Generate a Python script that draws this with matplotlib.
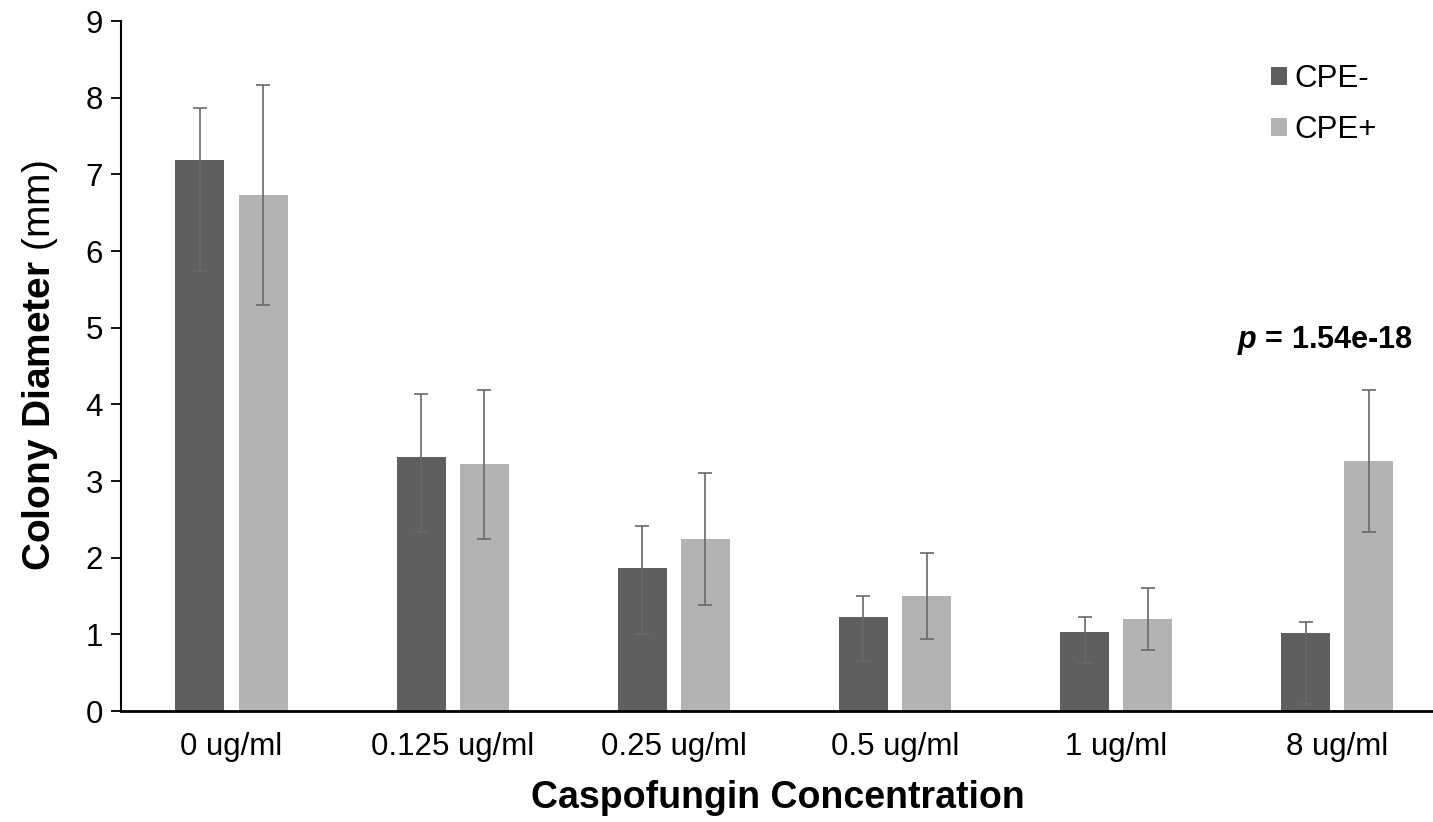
#!/usr/bin/env python3

import numpy as np
import matplotlib
matplotlib.use("Agg")
import matplotlib.pyplot as plt

# values (colony diameter, mm)
concentrations = ["0 ug/ml", "0.125 ug/ml", "0.25 ug/ml", "0.5 ug/ml", "1 ug/ml", "8 ug/ml"]
cpe_minus = [7.19, 3.31, 1.87, 1.22, 1.03, 1.02]
cpe_minus_err_up = [0.67, 0.82, 0.54, 0.28, 0.19, 0.14]
cpe_minus_err_down = [1.45, 0.98, 0.87, 0.57, 0.40, 0.93]
cpe_plus = [6.73, 3.22, 2.24, 1.50, 1.20, 3.26]
cpe_plus_err = [1.44, 0.97, 0.86, 0.56, 0.41, 0.93]
p_label = "1.54e-18"

plt.rcParams["font.family"] = ["Liberation Sans", "DejaVu Sans"]
plt.rcParams["mathtext.fontset"] = "custom"
plt.rcParams["mathtext.rm"] = "Liberation Sans"
plt.rcParams["mathtext.bf"] = "Liberation Sans:bold"
plt.rcParams["mathtext.it"] = "Liberation Sans:italic:bold"

dark = "#5f5f5f"
light = "#b3b3b3"
err_color = "#686868"

fig = plt.figure(figsize=(14.33, 8.22), dpi=100)
ax = fig.add_axes([0.0844, 0.135, 0.926, 0.8394])

x = np.arange(len(concentrations))
width = 0.222
offset = 0.143

err_kw = dict(ecolor=err_color, elinewidth=1.2, capsize=5, capthick=1.2)
ax.bar(x - offset, cpe_minus, width, color=dark, label="CPE-",
       yerr=[cpe_minus_err_down, cpe_minus_err_up], error_kw=err_kw)
ax.bar(x + offset, cpe_plus, width, color=light, label="CPE+",
       yerr=[cpe_plus_err, cpe_plus_err], error_kw=err_kw)

ax.set_xlim(-0.5, len(concentrations) - 0.5)
ax.set_ylim(0, 9)
ax.set_yticks(range(0, 10))
ax.set_xticks(x)
ax.set_xticklabels(concentrations)

for side in ["top", "right"]:
    ax.spines[side].set_visible(False)
ax.spines["left"].set_linewidth(1.5)
ax.spines["bottom"].set_linewidth(2.0)
ax.tick_params(axis="y", length=7, width=1.3, pad=6, labelsize=22.5)
ax.tick_params(axis="x", length=0, pad=15, labelsize=22.5)

ax.set_xlabel("Caspofungin Concentration", fontsize=27, fontweight="bold")
ax.xaxis.set_label_coords(0.495, -0.1)
ax.set_ylabel(r"$\mathbf{Colony\ Diameter}$ (mm)", fontsize=28)
ax.yaxis.set_label_coords(-0.046, 0.5)

# significance note above the 8 ug/ml pair
ax.text(5.34, 4.73, r"$\mathit{p}$ = " + p_label, fontsize=22, fontweight="bold",
        ha="right", va="baseline")

ax.legend(loc="upper left", bbox_to_anchor=(1271 / 1433, 1 - 64 / 822),
          bbox_transform=fig.transFigure, frameon=False, fontsize=22.5,
          handlelength=0.52, handleheight=0.52, handletextpad=0.22,
          labelspacing=0.68, borderpad=0, borderaxespad=0)

fig.savefig("out.png", dpi=100)
